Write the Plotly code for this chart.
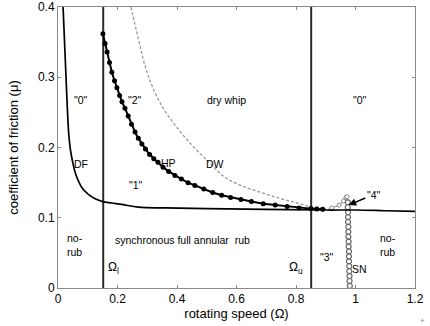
import plotly.graph_objects as go

# Disk friction (DF) boundary
df_omega = [0.017, 0.022, 0.027, 0.031, 0.036, 0.042, 0.050, 0.058, 0.067, 0.080, 0.100, 0.125, 0.150, 0.180, 0.215, 0.270, 0.360, 0.500, 0.700, 0.900, 1.000, 1.100, 1.200]
df_mu    = [0.400, 0.350, 0.300, 0.260, 0.220, 0.196, 0.178, 0.164, 0.154, 0.143, 0.134, 0.127, 0.123, 0.121, 0.119, 0.115, 0.114, 0.113, 0.112, 0.111, 0.111, 0.110, 0.109]

# Hopf (HP) curve with markers
hp_omega = [0.151, 0.158, 0.165, 0.173, 0.181, 0.190, 0.198, 0.207, 0.215, 0.225, 0.236, 0.247, 0.259, 0.270, 0.282, 0.294, 0.308, 0.322, 0.336, 0.353, 0.372, 0.393, 0.415, 0.437, 0.460, 0.490, 0.520, 0.550, 0.580, 0.615, 0.650, 0.690, 0.730, 0.770, 0.810, 0.850, 0.870, 0.890]
hp_mu    = [0.362, 0.348, 0.336, 0.321, 0.307, 0.295, 0.285, 0.274, 0.265, 0.256, 0.245, 0.233, 0.222, 0.213, 0.205, 0.198, 0.190, 0.184, 0.179, 0.172, 0.166, 0.160, 0.155, 0.150, 0.146, 0.141, 0.136, 0.132, 0.129, 0.126, 0.123, 0.120, 0.118, 0.116, 0.114, 0.113, 0.1125, 0.112]

# Dry whip (DW) boundary
dw_omega = [0.245, 0.270, 0.292, 0.315, 0.348, 0.393, 0.449, 0.505, 0.560, 0.620, 0.690, 0.750, 0.803, 0.847, 0.880, 0.900]
dw_mu    = [0.400, 0.355, 0.317, 0.289, 0.260, 0.232, 0.204, 0.180, 0.158, 0.145, 0.135, 0.127, 0.121, 0.116, 0.114, 0.113]

# Bump towards region "4"
bump_omega = [0.890, 0.920, 0.945, 0.960, 0.968, 0.972, 0.975]
bump_mu    = [0.112, 0.114, 0.118, 0.124, 0.129, 0.130, 0.122]

# Saddle-node (SN) branch
sn_omega = [0.974, 0.974, 0.975, 0.975, 0.975, 0.976, 0.976, 0.976, 0.977, 0.977, 0.978, 0.978, 0.978, 0.979, 0.979, 0.980, 0.980, 0.981]
sn_mu    = [0.122, 0.115, 0.108, 0.101, 0.094, 0.087, 0.080, 0.073, 0.066, 0.059, 0.052, 0.045, 0.038, 0.031, 0.024, 0.017, 0.010, 0.003]

# Boundaries Omega_l and Omega_u
omega_l = 0.152
omega_u = 0.851
vline_mu = [0.0, 0.4]

x_ticks = [0, 0.2, 0.4, 0.6, 0.8, 1.0, 1.2]
x_tick_text = ["0", "0.2", "0.4", "0.6", "0.8", "1", "1.2"]
y_ticks = [0, 0.1, 0.2, 0.3, 0.4]
y_tick_text = ["0", "0.1", "0.2", "0.3", "0.4"]

labels = [
    ('"0"', 0.077, 0.268),
    ('"2"', 0.259, 0.268),
    ('dry whip', 0.565, 0.268),
    ('"0"', 1.015, 0.268),
    ('DF', 0.078, 0.177),
    ('HP', 0.372, 0.178),
    ('DW', 0.528, 0.177),
    ('"1"', 0.262, 0.147),
    ('synchronous full annular  rub', 0.418, 0.068),
    ('"3"', 0.905, 0.044),
    ('SN', 1.012, 0.027),
    ('"4"', 1.062, 0.133),
]

FONT = "Liberation Sans, Arial, sans-serif"
TXT = 10.5

fig = go.Figure()

fig.add_trace(go.Scatter(x=[omega_l, omega_l], y=vline_mu, mode="lines",
                         line=dict(color="#2a2a2a", width=2), hoverinfo="skip"))
fig.add_trace(go.Scatter(x=[omega_u, omega_u], y=vline_mu, mode="lines",
                         line=dict(color="#2a2a2a", width=2), hoverinfo="skip"))

fig.add_trace(go.Scatter(x=dw_omega, y=dw_mu, mode="lines", line_shape="spline",
                         line=dict(color="#999999", width=1.3, dash="3px,2px")))
fig.add_trace(go.Scatter(x=bump_omega, y=bump_mu, mode="lines+markers",
                         line=dict(color="#9a9a9a", width=1.3, dash="dot"),
                         marker=dict(size=4, color="white", line=dict(color="#888888", width=1))))
fig.add_trace(go.Scatter(x=sn_omega, y=sn_mu, mode="lines+markers",
                         line=dict(color="#777777", width=1),
                         marker=dict(size=5, color="white", line=dict(color="#666666", width=1.2))))
fig.add_trace(go.Scatter(x=df_omega, y=df_mu, mode="lines", line_shape="spline",
                         line=dict(color="black", width=1.7)))
fig.add_trace(go.Scatter(x=hp_omega, y=hp_mu, mode="lines+markers",
                         line=dict(color="black", width=2),
                         marker=dict(size=5, color="black")))

for txt, xx, yy in labels:
    fig.add_annotation(x=xx, y=yy, text=txt, showarrow=False,
                       font=dict(family=FONT, size=TXT, color="black"))

fig.add_annotation(x=0.058, y=0.061, text="no-<br>rub", showarrow=False, align="left",
                   font=dict(family=FONT, size=TXT, color="black"))
fig.add_annotation(x=1.108, y=0.061, text="no-<br>rub", showarrow=False, align="left",
                   font=dict(family=FONT, size=TXT, color="black"))
fig.add_annotation(x=0.185, y=0.028, text="Ω<sub>l</sub>", showarrow=False,
                   font=dict(family=FONT, size=12, color="black"))
fig.add_annotation(x=0.80, y=0.028, text="Ω<sub>u</sub>", showarrow=False,
                   font=dict(family=FONT, size=12, color="black"))
fig.add_annotation(x=0.977, y=0.118, ax=1.038, ay=0.129, axref="x", ayref="y",
                   text="", showarrow=True, arrowhead=2, arrowsize=1, arrowwidth=1.5,
                   arrowcolor="black")
fig.add_annotation(x=1.0, y=0.0, xref="paper", yref="paper", xshift=7, yshift=-32,
                   xanchor="center", yanchor="middle",
                   text="+", showarrow=False, font=dict(family=FONT, size=8, color="#888888"))

axis_common = dict(showgrid=False, zeroline=False, showline=True, mirror="ticks",
                   linecolor="#8a8a8a", linewidth=1, ticks="inside", ticklen=3,
                   tickcolor="#8a8a8a", automargin=False,
                   tickfont=dict(family=FONT, size=12, color="black"))

fig.update_xaxes(range=[0, 1.2], tickvals=x_ticks, ticktext=x_tick_text,
                 title=dict(text="rotating speed (Ω)", standoff=2,
                            font=dict(family=FONT, size=13, color="black")),
                 **axis_common)
fig.update_yaxes(range=[0, 0.4], tickvals=y_ticks, ticktext=y_tick_text,
                 title=dict(text="coefficient of friction (μ)", standoff=16,
                            font=dict(family=FONT, size=13, color="black")),
                 **axis_common)

fig.update_layout(width=430, height=326, showlegend=False,
                  margin=dict(l=58, r=15, t=7, b=38),
                  paper_bgcolor="white", plot_bgcolor="white")

fig.write_html("out.html", config={"displayModeBar": False},
               post_script="document.body.style.margin='0';")
